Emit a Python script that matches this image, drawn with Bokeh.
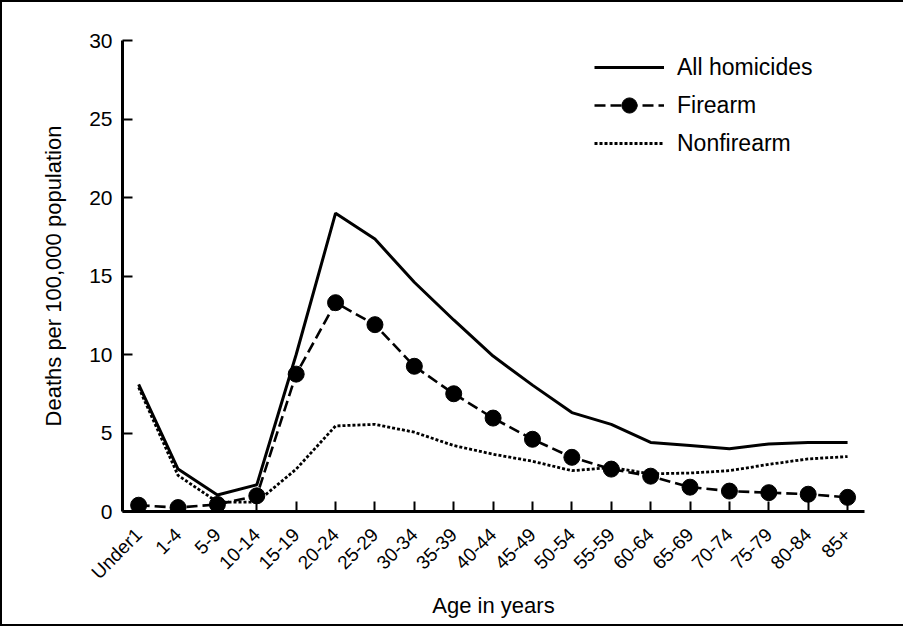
from bokeh.plotting import figure
from bokeh.models import Range1d, FixedTicker, Legend, LegendItem
from bokeh.embed import file_html
from bokeh.resources import INLINE

age_groups = ["Under1", "1-4", "5-9", "10-14", "15-19", "20-24", "25-29", "30-34",
              "35-39", "40-44", "45-49", "50-54", "55-59", "60-64", "65-69",
              "70-74", "75-79", "80-84", "85+"]
all_homicides = [8.1, 2.7, 1.05, 1.7, 10.0, 19.0, 17.35, 14.6, 12.2, 9.9, 8.05,
                 6.3, 5.55, 4.4, 4.2, 4.0, 4.3, 4.4, 4.4]
firearm = [0.4, 0.25, 0.45, 1.0, 8.75, 13.3, 11.9, 9.25, 7.5, 5.95, 4.6,
           3.45, 2.7, 2.25, 1.55, 1.3, 1.2, 1.1, 0.9]
nonfirearm = [7.9, 2.3, 0.6, 0.6, 2.7, 5.45, 5.55, 5.05, 4.2, 3.65, 3.2,
              2.6, 2.8, 2.4, 2.45, 2.6, 3.0, 3.35, 3.5]
y_ticks = [0, 5, 10, 15, 20, 25, 30]

FONT = "Liberation Sans"
x = list(range(len(age_groups)))

p = figure(width=903, height=626, output_backend="svg", toolbar_location=None,
           x_range=Range1d(-0.41, 18.43), y_range=Range1d(0, 30),
           min_border_left=120, min_border_right=41, min_border_top=38,
           min_border_bottom=117)
p.styles = {"border-left": "2px solid black", "border-top": "2px solid black",
            "border-bottom": "2px solid black"}
p.outline_line_color = None
p.xgrid.visible = False
p.ygrid.visible = False
p.background_fill_color = "white"
p.border_fill_color = "white"

r_all = p.line(x, all_homicides, line_color="black", line_width=3)
r_fire = p.line(x, firearm, line_color="black", line_width=2.6, line_dash="11 5")
r_fire_pts = p.scatter(x, firearm, size=16, fill_color="black", line_color="black")
r_non = p.line(x, nonfirearm, line_color="black", line_width=2.8, line_dash="3 2")

xa = p.xaxis[0]
xa.ticker = FixedTicker(ticks=x)
xa.major_label_overrides = {i: lab for i, lab in enumerate(age_groups)}
xa.major_label_orientation = 0.785398
xa.axis_label = "Age in years"
ya = p.yaxis[0]
ya.ticker = FixedTicker(ticks=y_ticks)
ya.axis_label = "Deaths per 100,000 population"

for ax in (xa, ya):
    ax.axis_line_width = 3
    ax.axis_line_color = "black"
    ax.major_tick_line_width = 2
    ax.major_tick_line_color = "black"
    ax.major_tick_in = 10
    ax.major_tick_out = 0
    ax.minor_tick_line_color = None
    ax.major_label_text_font = FONT
    ax.major_label_text_color = "black"
    ax.axis_label_text_font = FONT
    ax.axis_label_text_font_style = "normal"
    ax.axis_label_text_font_size = "22px"
    ax.axis_label_text_color = "black"

xa.major_label_text_font_size = "19px"
xa.major_label_standoff = 20
xa.axis_label_standoff = 0
ya.major_label_text_font_size = "21px"
ya.major_label_standoff = 10
ya.axis_label_standoff = 20

legend = Legend(items=[
    LegendItem(label="All homicides", renderers=[r_all]),
    LegendItem(label="Firearm", renderers=[r_fire, r_fire_pts]),
    LegendItem(label="Nonfirearm", renderers=[r_non]),
], location=(472, 349))
legend.padding = 0
legend.margin = 0
legend.spacing = 0
legend.glyph_width = 70
legend.glyph_height = 38
legend.label_height = 38
legend.label_standoff = 13
legend.label_text_font = FONT
legend.label_text_font_size = "23px"
legend.label_text_color = "black"
legend.border_line_alpha = 0
legend.background_fill_alpha = 0
p.add_layout(legend)

open("out.html", "w").write(file_html(p, INLINE))
